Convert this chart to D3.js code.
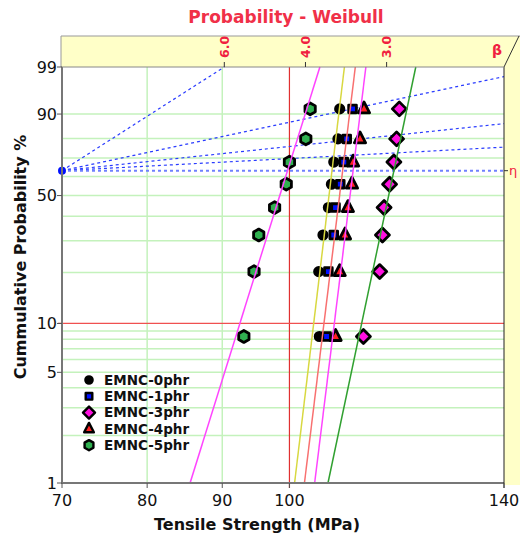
<!DOCTYPE html>
<html>
<meta charset="utf-8"/>
<head>
  <title>Probability - Weibull</title>
  <style>
    body { margin: 0; background: #fff; }
    text { font-family: "DejaVu Sans", "Noto Sans", sans-serif; }
  </style>
</head>
<body>
<svg width="520" height="538"></svg>
<script src="https://d3js.org/d3.v7.min.js"></script>
<script>
// median ranks (%) of the 8 specimens of every batch
var ranks = [8.33, 20.24, 32.14, 44.05, 55.95, 67.86, 79.76, 91.67];

var seriesNames = ["EMNC-0phr", "EMNC-1phr", "EMNC-3phr", "EMNC-4phr", "EMNC-5phr"];
var strength0 = [104.8, 104.7, 105.4, 106.3, 106.8, 107.2, 107.9, 108.2];
var strength1 = [106.0, 106.3, 107.2, 107.5, 108.3, 108.9, 109.4, 110.4];
var strength3 = [112.3, 115.2, 115.7, 116.0, 117.0, 117.8, 118.3, 118.8];
var strength4 = [107.5, 108.2, 109.1, 109.6, 110.3, 110.5, 111.7, 112.4];
var strength5 = [93.1, 94.6, 95.3, 97.7, 99.5, 100.0, 102.6, 103.3];

// fitted weibull parameters per batch
var fitBeta = [78.4, 76.8, 44.5, 76.3, 30.1];
var fitEta  = [106.9, 108.7, 117.8, 110.5, 99.7];

var betaTicks = [6.0, 4.0, 3.0];
var betaGuides = [6, 2, 1, 0.5, 0];   // dashed lines from the eta point
var xTicks = [70, 80, 90, 100, 140];
var xGrid = [80, 90];
var yGrid = [2, 3, 4, 5, 6, 7, 8, 9, 20, 30, 40, 50, 60, 70, 80, 90];
var yLabels = [1, 5, 10, 50, 90, 99];

var allData = [strength0, strength1, strength3, strength4, strength5];
var markerFill = ["#000000", "#0010ff", "#ff10e0", "#ff2020", "#30b050"];
var markerShape = ["circle", "square", "diamond", "triangle", "hexagon"];
var fitColors = ["#d8d840", "#f87070", "#30a030", "#ff44ff", "#ff44ff"];

var svg = d3.select("svg");
var pLeft = 62, pRight = 504, pTop = 67, pBottom = 483;

function wb(p) { return Math.log(-Math.log(1 - p / 100)); }

var x = d3.scaleLog().domain([70, 140]).range([pLeft, pRight]);
var y = d3.scaleLinear().domain([wb(1), wb(99)]).range([pBottom, pTop]);
var wTop = wb(99);

// yellow frame for the beta / eta scales
svg.append("rect").attr("x", 61).attr("y", 36).attr("width", 460).attr("height", pTop - 36)
  .attr("fill", "#ffffc8");
svg.append("rect").attr("x", pRight).attr("y", 36).attr("width", 20).attr("height", 449)
  .attr("fill", "#ffffc8");
svg.append("line").attr("x1", 61).attr("x2", 520).attr("y1", 36).attr("y2", 36)
  .attr("stroke", "#999");
svg.append("line").attr("x1", 61).attr("x2", 61).attr("y1", 36).attr("y2", pTop)
  .attr("stroke", "#999");
svg.append("line").attr("x1", 519).attr("y1", 36).attr("x2", pRight).attr("y2", pTop)
  .attr("stroke", "#333");
svg.append("rect").attr("x", pLeft).attr("y", pTop).attr("width", pRight - pLeft).attr("height", pBottom - pTop)
  .attr("fill", "#fff");

// grid
var grid = svg.append("g").attr("stroke", "#c4f2bc").attr("stroke-width", 1.5);
grid.selectAll(".gx").data(xGrid).enter().append("line")
  .attr("x1", d => x(d)).attr("x2", d => x(d)).attr("y1", pTop).attr("y2", pBottom);
grid.selectAll(".gy").data(yGrid).enter().append("line")
  .attr("x1", pLeft).attr("x2", pRight).attr("y1", d => y(wb(d))).attr("y2", d => y(wb(d)));

// red reference lines
svg.append("line").attr("x1", x(100)).attr("x2", x(100)).attr("y1", pTop).attr("y2", pBottom + 5)
  .attr("stroke", "#e03030").attr("stroke-width", 1.2);
svg.append("line").attr("x1", pLeft - 4).attr("x2", pRight).attr("y1", y(wb(10))).attr("y2", y(wb(10)))
  .attr("stroke", "#f05050").attr("stroke-width", 1.2);

// beta guide lines
function guideEnd(b) {
  if (b * Math.LN2 <= wTop) return [140, b * Math.LN2];
  return [70 * Math.exp(wTop / b), wTop];
}
svg.append("g").selectAll("line").data(betaGuides).enter().append("line")
  .attr("x1", x(70)).attr("y1", y(0))
  .attr("x2", d => x(guideEnd(d)[0])).attr("y2", d => y(guideEnd(d)[1]))
  .attr("stroke", d => d == 0 ? "#7080ff" : "#2a3cff")
  .attr("stroke-width", d => d == 0 ? 2 : 1.2)
  .attr("stroke-dasharray", "3,3");

// markers
function markerPath(shape, s) {
  if (shape == "circle") return d3.symbol(d3.symbolCircle, Math.PI * s * s * 0.36)();
  if (shape == "square") { var h = s * 0.55; return "M" + -h + "," + -h + "H" + h + "V" + h + "H" + -h + "Z"; }
  if (shape == "diamond") { var r = s * 1.0; return "M0," + -r + "L" + r + ",0L0," + r + "L" + -r + ",0Z"; }
  if (shape == "triangle") { var t = s * 0.95; return "M0," + (-t * 1.05) + "L" + t * 0.85 + "," + t * 0.6 + "L" + -t * 0.85 + "," + t * 0.6 + "Z"; }
  var pts = d3.range(6).map(i => { var a = Math.PI / 3 * i - Math.PI / 2; return [s * 0.85 * Math.cos(a), s * 0.85 * Math.sin(a)]; });
  return "M" + pts.join("L") + "Z";
}

allData.forEach(function(vals, si) {
  svg.append("g").selectAll("path").data(vals).enter().append("path")
    .attr("d", markerPath(markerShape[si], 7))
    .attr("transform", (d, i) => "translate(" + x(d) + "," + y(wb(ranks[i])) + ")")
    .attr("fill", markerFill[si])
    .attr("stroke", "#000").attr("stroke-width", 2.8).attr("stroke-linejoin", "round");
});

// fitted lines
fitBeta.forEach(function(b, si) {
  var p1 = fitEta[si] * Math.exp(wb(1) / b), p2 = fitEta[si] * Math.exp(wTop / b);
  svg.append("line")
    .attr("x1", x(p1)).attr("y1", y(wb(1))).attr("x2", x(p2)).attr("y2", y(wTop))
    .attr("stroke", fitColors[si]).attr("stroke-width", 1.5);
});

// eta pivot point
svg.append("circle").attr("cx", x(70)).attr("cy", y(0)).attr("r", 4).attr("fill", "#0010ff");

// axes frame
svg.append("line").attr("x1", pLeft).attr("x2", pLeft).attr("y1", pTop).attr("y2", pBottom + 1)
  .attr("stroke", "#777").attr("stroke-width", 2);
svg.append("line").attr("x1", pLeft - 1).attr("x2", pRight).attr("y1", pBottom).attr("y2", pBottom)
  .attr("stroke", "#777").attr("stroke-width", 2);
svg.append("line").attr("x1", pRight).attr("x2", pRight).attr("y1", pTop).attr("y2", pBottom + 5)
  .attr("stroke", "#222");
svg.append("line").attr("x1", 61).attr("x2", pRight).attr("y1", pTop).attr("y2", pTop)
  .attr("stroke", "#888");

// y labels
svg.append("g").selectAll("line").data(yLabels).enter().append("line")
  .attr("x1", pLeft - 5).attr("x2", pLeft).attr("y1", d => y(wb(d))).attr("y2", d => y(wb(d)))
  .attr("stroke", "#555");
svg.append("g").selectAll("text").data(yLabels).enter().append("text")
  .attr("x", 57).attr("y", d => y(wb(d))).attr("dy", "0.35em")
  .attr("text-anchor", "end").attr("font-size", 16).attr("fill", "#111")
  .text(d => d);

// x labels
svg.append("g").selectAll("line").data(xTicks).enter().append("line")
  .attr("x1", d => x(d)).attr("x2", d => x(d)).attr("y1", pBottom).attr("y2", pBottom + 5)
  .attr("stroke", "#555");
svg.append("g").selectAll("text").data(xTicks).enter().append("text")
  .attr("x", d => x(d)).attr("y", 506)
  .attr("text-anchor", "middle").attr("font-size", 16).attr("fill", "#111")
  .text(d => d);

// beta scale on top
svg.append("g").selectAll("line").data(betaTicks).enter().append("line")
  .attr("x1", d => x(70 * Math.exp(wTop / d))).attr("x2", d => x(70 * Math.exp(wTop / d)))
  .attr("y1", pTop - 5).attr("y2", pTop).attr("stroke", "#333");
svg.append("g").selectAll("text").data(betaTicks).enter().append("text")
  .attr("transform", d => "translate(" + (x(70 * Math.exp(wTop / d)) + 4.5) + "," + 58 + ") rotate(-90)")
  .attr("font-size", 12.5).attr("font-weight", "bold").attr("fill", "#f02040")
  .text(d => d.toFixed(1));
svg.append("text").attr("x", 497).attr("y", 55).attr("text-anchor", "middle")
  .attr("font-size", 14).attr("font-weight", "bold").attr("fill", "#f02040").text("β");
svg.append("line").attr("x1", pRight).attr("x2", pRight + 4).attr("y1", y(0)).attr("y2", y(0)).attr("stroke", "#333");
svg.append("text").attr("x", pRight + 5).attr("y", y(0)).attr("dy", "0.35em")
  .attr("font-size", 13).attr("fill", "#f02040").text("η");

// titles
svg.append("text").attr("x", 286).attr("y", 23).attr("text-anchor", "middle")
  .attr("font-size", 17).attr("font-weight", "bold").attr("fill", "#f03048")
  .text("Probability - Weibull");
svg.append("text").attr("x", 257).attr("y", 530).attr("text-anchor", "middle")
  .attr("font-size", 16).attr("font-weight", "bold").attr("fill", "#111")
  .text("Tensile Strength (MPa)");
svg.append("text").attr("transform", "translate(26,257) rotate(-90)").attr("text-anchor", "middle")
  .attr("font-size", 16).attr("font-weight", "bold").attr("fill", "#111")
  .text("Cummulative Probability %");

// legend
var legend = svg.append("g").selectAll("g").data(seriesNames).enter().append("g")
  .attr("transform", (d, i) => "translate(89," + (380 + i * 16.3) + ")");
legend.append("path")
  .attr("d", (d, i) => markerPath(markerShape[i], 6))
  .attr("fill", (d, i) => markerFill[i])
  .attr("stroke", "#000").attr("stroke-width", 2.4).attr("stroke-linejoin", "round");
legend.append("text").attr("x", 15).attr("dy", "0.35em")
  .attr("font-size", 13.5).attr("font-weight", "bold").attr("fill", "#111")
  .text(d => d);
</script>
</body>
</html>
